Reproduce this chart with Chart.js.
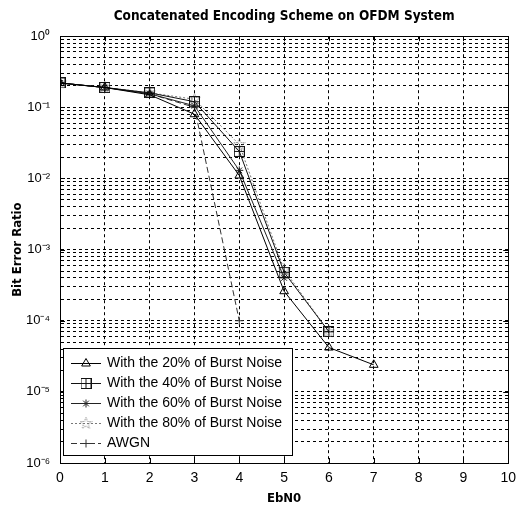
<!DOCTYPE html>
<html>
<head>
<meta charset="utf-8">
<script src="https://cdn.jsdelivr.net/npm/chart.js@4.4.0/dist/chart.umd.min.js"></script>
<style>
  body { margin: 0; background: #fff; }
</style>
</head>
<body>
<canvas id="myChart" width="523" height="507"></canvas>
<script>
// values
const ebn0 = [0, 1, 2, 3, 4, 5, 6, 7];
const burst20 = [0.22, 0.19, 0.15, 0.08, 0.011, 2.6e-4, 4.2e-5, 2.4e-5];
const burst40 = [0.22, 0.19, 0.16, 0.12, 0.024, 4.8e-4, 7e-5];
const burst60 = [0.22, 0.19, 0.155, 0.105, 0.013, 4e-4];
const burst80 = [0.22, 0.19, 0.16, 0.13, 0.03, 5.2e-4, 7e-5];
const awgn = [0.22, 0.19, 0.155, 0.1, 1e-4];
const seriesNames = [
  'With the 20% of Burst Noise',
  'With the 40% of Burst Noise',
  'With the 60% of Burst Noise',
  'With the 80% of Burst Noise',
  'AWGN',
];
const xTicks = [0, 1, 2, 3, 4, 5, 6, 7, 8, 9, 10];
const yDecades = [-6, -5, -4, -3, -2, -1, 0];

const FONT = "'Liberation Sans', Arial, sans-serif";
const NARROW = "'Liberation Sans Narrow', 'DejaVu Sans Condensed', 'Liberation Sans', sans-serif";

function toPoints(ys) {
  return ys.map((y, i) => ({x: ebn0[i], y: y}));
}

// square with a plus inside (matlab 'square' + '+')
function boxPlus(color) {
  const c = document.createElement('canvas');
  c.width = 11; c.height = 11;
  const g = c.getContext('2d');
  g.strokeStyle = color; g.lineWidth = 1;
  g.strokeRect(0.5, 0.5, 10, 10);
  g.beginPath();
  g.moveTo(5.5, 1); g.lineTo(5.5, 10);
  g.moveTo(1, 5.5); g.lineTo(10, 5.5);
  g.stroke();
  return c;
}

// dotted pentagram
function pentagram(color) {
  const c = document.createElement('canvas');
  c.width = 13; c.height = 13;
  const g = c.getContext('2d');
  g.strokeStyle = color; g.lineWidth = 1;
  g.setLineDash([1, 1]);
  g.beginPath();
  for (let k = 0; k < 10; k++) {
    const r = k % 2 === 0 ? 6 : 2.5;
    const a = -Math.PI / 2 + k * Math.PI / 5;
    const px = 6.5 + r * Math.cos(a), py = 6.5 + r * Math.sin(a);
    if (k === 0) g.moveTo(px, py); else g.lineTo(px, py);
  }
  g.closePath();
  g.stroke();
  return c;
}

function sup(n) {
  const digits = '⁰¹²³⁴⁵⁶⁷⁸⁹';
  const s = String(Math.abs(n)).split('').map(d => digits[+d]).join('');
  return (n < 0 ? '⁻' : '') + s;
}

const frameAndLegend = {
  id: 'frameAndLegend',
  afterLayout(chart) {
    // matlab centres the title over the axes, not the whole figure
    if (chart.titleBlock) {
      chart.titleBlock.left = chart.chartArea.left;
      chart.titleBlock.right = chart.chartArea.right;
    }
  },
  afterDatasetsDraw(chart) {
    const ctx = chart.ctx;
    const ca = chart.chartArea;
    ctx.save();
    ctx.strokeStyle = '#000';
    ctx.lineWidth = 1;
    ctx.setLineDash([]);
    ctx.strokeRect(Math.round(ca.left) + 0.5, Math.round(ca.top) + 0.5,
      Math.round(ca.right - ca.left), Math.round(ca.bottom - ca.top));

    // little inward tick marks like matlab
    const xs = chart.scales.x, ys = chart.scales.y;
    ctx.beginPath();
    xTicks.forEach(v => {
      const px = Math.round(xs.getPixelForValue(v)) + 0.5;
      ctx.moveTo(px, ca.bottom); ctx.lineTo(px, ca.bottom - 5);
      ctx.moveTo(px, ca.top); ctx.lineTo(px, ca.top + 5);
    });
    yDecades.forEach(e => {
      const py = Math.round(ys.getPixelForValue(Math.pow(10, e))) + 0.5;
      ctx.moveTo(ca.left, py); ctx.lineTo(ca.left + 5, py);
      ctx.moveTo(ca.right, py); ctx.lineTo(ca.right - 5, py);
    });
    ctx.stroke();

    // legend box, lower left inside the axes
    const x0 = Math.round(ca.left) + 3;
    const y1 = Math.round(ca.bottom) - 8;
    const y0 = y1 - 107;
    const w = 229;
    ctx.fillStyle = '#fff';
    ctx.fillRect(x0, y0, w, y1 - y0);
    ctx.strokeRect(x0 + 0.5, y0 + 0.5, w, y1 - y0);
    ctx.font = '14px ' + FONT;
    ctx.textBaseline = 'middle';
    chart.data.datasets.forEach((ds, i) => {
      const y = y0 + 15 + i * 20 + 0.5;
      ctx.strokeStyle = ds.borderColor;
      ctx.lineWidth = ds.borderWidth;
      ctx.setLineDash(ds.borderDash || []);
      ctx.beginPath();
      ctx.moveTo(x0 + 8, y);
      ctx.lineTo(x0 + 38, y);
      ctx.stroke();
      ctx.setLineDash([]);
      if (Chart.helpers && Chart.helpers.drawPoint) {
        ctx.fillStyle = 'rgba(0,0,0,0)';
        Chart.helpers.drawPoint(ctx, {
          pointStyle: ds.pointStyle,
          radius: ds.pointRadius,
          borderWidth: 1,
          rotation: 0,
        }, x0 + 23, y);
      }
      ctx.fillStyle = '#000';
      ctx.fillText(ds.label, x0 + 44, y);
    });
    ctx.restore();
  },
};

const ctx = document.getElementById('myChart');
const myChart = new Chart(ctx, {
  type: 'line',
  data: {
    datasets: [
      {
        label: seriesNames[0],
        data: toPoints(burst20),
        borderColor: '#000',
        borderWidth: 1,
        pointStyle: 'triangle',
        pointRadius: 5,
        pointBorderColor: '#000',
        pointBackgroundColor: 'rgba(0,0,0,0)',
        tension: 0,
      },
      {
        label: seriesNames[1],
        data: toPoints(burst40),
        borderColor: '#111',
        borderWidth: 1,
        pointStyle: boxPlus('#111'),
        pointRadius: 5,
        tension: 0,
      },
      {
        label: seriesNames[2],
        data: toPoints(burst60),
        borderColor: '#222',
        borderWidth: 1,
        pointStyle: 'star',
        pointRadius: 4,
        pointBorderColor: '#222',
        pointBackgroundColor: 'rgba(0,0,0,0)',
        tension: 0,
      },
      {
        label: seriesNames[3],
        data: toPoints(burst80),
        borderColor: '#777',
        borderWidth: 1,
        borderDash: [2, 2],
        pointStyle: pentagram('#777'),
        pointRadius: 6,
        tension: 0,
      },
      {
        label: seriesNames[4],
        data: toPoints(awgn),
        borderColor: '#333',
        borderWidth: 1,
        borderDash: [6, 3],
        pointStyle: 'cross',
        pointRadius: 4,
        pointBorderColor: '#333',
        tension: 0,
      },
    ],
  },
  options: {
    responsive: false,
    animation: false,
    devicePixelRatio: 1,
    layout: {padding: {left: 0, right: 7, top: 0, bottom: 0}},
    plugins: {
      legend: {display: false},
      tooltip: {enabled: false},
      title: {
        display: true,
        text: 'Concatenated Encoding Scheme on OFDM System',
        color: '#000',
        font: {family: NARROW, size: 13.5, weight: 'bold'},
        padding: {top: 8, bottom: 12},
      },
    },
    scales: {
      x: {
        type: 'linear',
        min: 0,
        max: 10,
        afterBuildTicks: (scale) => { scale.ticks = xTicks.map(v => ({value: v})); },
        afterFit: (scale) => { scale.height = 44; },
        ticks: {
          color: '#000',
          font: {family: FONT, size: 14},
          padding: 7,
          maxRotation: 0,
          autoSkip: false,
        },
        grid: {color: '#000', lineWidth: 1, drawTicks: false},
        border: {display: true, color: '#000', dash: [3, 3]},
        title: {
          display: true,
          text: 'EbN0',
          color: '#000',
          font: {family: NARROW, size: 13, weight: 'bold'},
          padding: {top: 2, bottom: 1},
        },
      },
      y: {
        type: 'logarithmic',
        min: 1e-6,
        max: 1,
        afterBuildTicks: (scale) => {
          const t = [];
          yDecades.forEach(e => {
            for (let m = 1; m <= 9; m++) {
              const v = m * Math.pow(10, e);
              if (v <= 1.0000001) t.push({value: v});
            }
          });
          scale.ticks = t;
        },
        afterFit: (scale) => { scale.width = 60; },
        ticks: {
          color: '#000',
          font: {family: FONT, size: 13},
          padding: 10,
          autoSkip: false,
          callback: (val) => {
            const e = Math.log10(val);
            if (Math.abs(e - Math.round(e)) < 1e-6) return '10' + sup(Math.round(e));
            return '';
          },
        },
        grid: {color: '#000', lineWidth: 1, drawTicks: false},
        border: {display: true, color: '#000', dash: [3, 3]},
        title: {
          display: true,
          text: 'Bit Error Ratio',
          color: '#000',
          font: {family: NARROW, size: 13, weight: 'bold'},
          padding: {top: 10, bottom: 0},
        },
      },
    },
  },
  plugins: [frameAndLegend],
});
</script>
</body>
</html>
